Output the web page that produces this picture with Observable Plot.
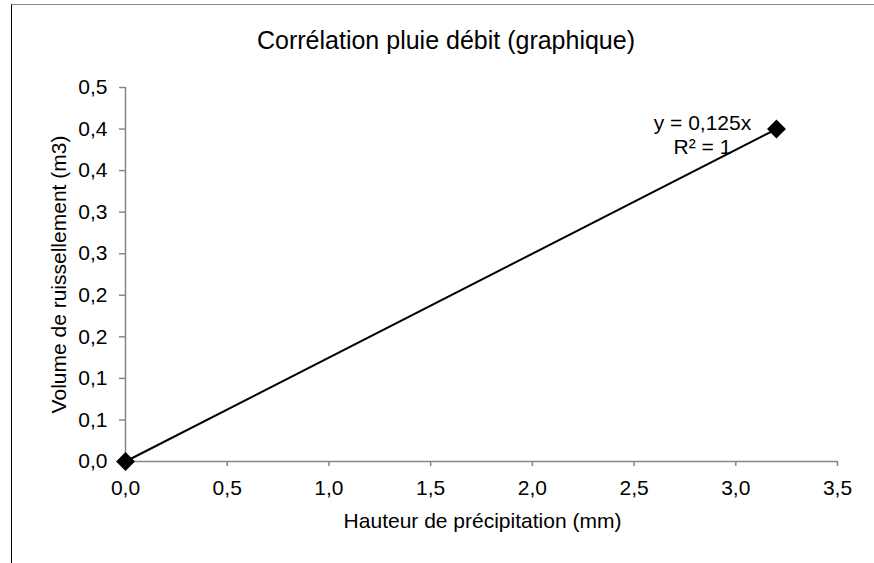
<!DOCTYPE html>
<html><head><meta charset="utf-8">
<script src="https://cdn.jsdelivr.net/npm/d3@7"></script>
<script src="https://cdn.jsdelivr.net/npm/@observablehq/plot@0.6"></script>
<style>
body{margin:0;background:#fff;overflow:hidden;font-family:"Liberation Sans",Arial,sans-serif;}
#wrap{position:relative;width:874px;height:563px;}
#chart{position:absolute;left:0;top:0;}
#frame{position:absolute;left:11px;top:4px;width:900px;height:600px;border-left:1.5px solid #000;border-top:1px solid #8a8a8a;pointer-events:none;}
</style></head><body>
<div id="wrap"><div id="chart"></div><div id="frame"></div></div>
<script>
const title = "Corrélation pluie débit (graphique)";
const xTitle = "Hauteur de précipitation (mm)";
const yTitle = "Volume de ruissellement (m3)";
const precipitation = [0, 3.2];
const volume = [0, 0.4];
const xTicks = [0, 0.5, 1, 1.5, 2, 2.5, 3, 3.5];
const xTickLabels = ["0,0", "0,5", "1,0", "1,5", "2,0", "2,5", "3,0", "3,5"];
const yTicks = [0, 0.05, 0.1, 0.15, 0.2, 0.25, 0.3, 0.35, 0.4, 0.45];
const yTickLabels = ["0,0", "0,1", "0,1", "0,2", "0,2", "0,3", "0,3", "0,4", "0,4", "0,5"];
const equation = ["y = 0,125x", "R² = 1"];

const data = precipitation.map((x, i) => ({x, y: volume[i]}));
const gray = "#868686";
const font = '"Liberation Sans", Arial, sans-serif';

const plot = Plot.plot({
  width: 874, height: 563,
  marginLeft: 125, marginRight: 37, marginTop: 87, marginBottom: 102,
  style: {fontFamily: font, fontSize: "21px", color: "#000", background: "transparent"},
  x: {domain: [0, 3.5]},
  y: {domain: [0, 0.45]},
  marks: [
    Plot.axisX({ticks: xTicks, tickFormat: d => xTickLabels[xTicks.indexOf(d)], tickSize: 5, tickPadding: 14,
      stroke: gray, fill: "#000", strokeWidth: 1.5, fontSize: 21, label: null}),
    Plot.axisY({ticks: yTicks, tickFormat: d => yTickLabels[yTicks.indexOf(d)], tickSize: 6, tickPadding: 12,
      stroke: gray, fill: "#000", strokeWidth: 1.5, fontSize: 21, label: null}),
    Plot.ruleY([0], {stroke: gray, strokeWidth: 1.5}),
    Plot.ruleX([0], {stroke: gray, strokeWidth: 1.5}),
    Plot.linearRegressionY(data, {x: "x", y: "y", stroke: "#000", strokeWidth: 2, ci: 0}),
    Plot.dot(data, {x: "x", y: "y", symbol: "diamond2", r: 8.5, fill: "#000", stroke: "none"}),
    Plot.text([data[data.length - 1]], {x: "x", y: "y", text: () => equation.join("\n"),
      dx: -74, dy: 5, textAnchor: "middle", lineAnchor: "middle", lineHeight: 1.15, fontSize: 21, fill: "#000"}),
    Plot.text([title], {frameAnchor: "top", dx: -35.5, dy: -39, lineAnchor: "bottom", fontSize: 25, fill: "#000"}),
    Plot.text([xTitle], {frameAnchor: "bottom", dx: 1, dy: 66, lineAnchor: "bottom", fontSize: 21, fill: "#000"}),
    Plot.text([yTitle], {frameAnchor: "left", dx: -60, rotate: -90, lineAnchor: "bottom", textAnchor: "middle", fontSize: 21, fill: "#000"})
  ]
});
document.getElementById("chart").appendChild(plot);
</script>
</body></html>
